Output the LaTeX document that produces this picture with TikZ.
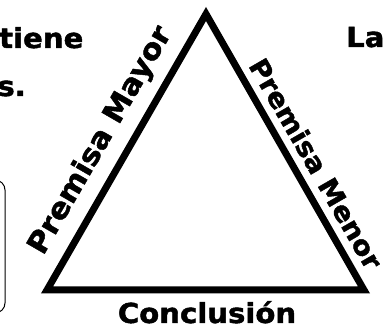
\documentclass[tikz,border=0pt]{standalone}
\usepackage{fontspec}
\setmainfont{DejaVu Sans}
\newfontfamily\blk{DejaVu Sans Bold}[FakeStretch=1.06, FakeBold=1.6]
\begin{document}
\begin{tikzpicture}[x=1pt,y=-1pt,
  lbl/.style={font=\blk\fontsize{27.5}{27.5}\selectfont, inner sep=0pt},
  big/.style={font=\blk\fontsize{29}{29}\selectfont},
  small/.style={font=\blk\fontsize{26.5}{26.5}\selectfont},
  side/.style={line width=7pt, miter limit=10}]
\useasboundingbox (0,0) rectangle (386,328);
\clip (0,0) rectangle (386,328);
\coordinate (A) at (206,14);
\coordinate (B) at (47,290);
\coordinate (C) at (364,290);
\draw[side] (A) -- (B) -- (C) -- cycle;
\node[lbl, big, rotate=60, anchor=base] (mayor) at (107.6,144.6) {Premisa Mayor};
\node[lbl, small, rotate=-60, anchor=base] (menor) at (307.5,168.6) {Premisa Menor};
\node[lbl, anchor=base] (concl) at (207,323) {Conclusión};
\node[lbl, anchor=base west] (tiene) at (-1,48) {tiene};
\node[lbl, anchor=base east] (s) at (26,96) {s.};
\node[lbl, anchor=base west] (la) at (346,47) {La};
\draw[line width=1pt, rounded corners=10pt] (-30,180) rectangle (5,313);
\end{tikzpicture}
\end{document}
